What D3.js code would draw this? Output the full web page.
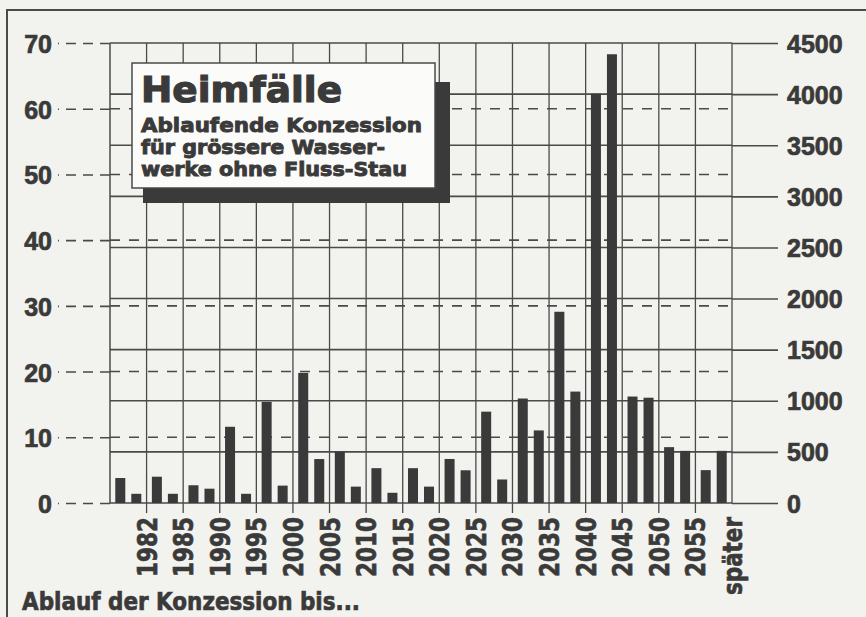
<!DOCTYPE html>
<html>
<head>
<meta charset="utf-8">
<style>
    body {
        margin: 0;
        background: #f2f2ee;
    }
    svg {
        display: block;
        font-family: "DejaVu Sans", sans-serif;
        font-weight: bold;
    }
    svg text {
        stroke: #3a3a3a;
        stroke-width: 0.7px;
    }
    .axis .domain {
        display: none;
    }
    .axis .tick text {
        fill: #3a3a3a;
        font-size: 25px;
    }
    .y-left .tick line {
        stroke: #4a4a4a;
        stroke-width: 1.6px;
        stroke-dasharray: 10, 7;
    }
    .y-right .tick line {
        stroke: #4a4a4a;
        stroke-width: 1.6px;
    }
</style>
</head>
<body>
<svg width="866" height="617"></svg>

<script src="https://cdn.jsdelivr.net/npm/d3@7/dist/d3.min.js"></script>
<script>

    // each interval ends at its label
    let xLabels = ["1982", "1985", "1990", "1995", "2000", "2005", "2010", "2015", "2020",
        "2025", "2030", "2035", "2040", "2045", "2050", "2055", "später"]

    // left bar of each pair, left axis (Anzahl)
    let anzahl = [3.8, 4.0, 2.7, 11.6, 15.4, 19.8, 7.8, 5.3, 5.3, 6.7, 13.9, 15.9, 29.1, 62.3, 16.2, 8.5, 5.0]
    // right bar of each pair, right axis
    let leistung = [90, 90, 140, 90, 170, 430, 160, 100, 160, 320, 230, 710, 1090, 4390, 1030, 510, 510]

    let leftTicks = [0, 10, 20, 30, 40, 50, 60, 70]
    let rightTicks = [0, 500, 1000, 1500, 2000, 2500, 3000, 3500, 4000, 4500]

    let width = 866
    let height = 617
    let margin = { top: 43, right: 134, bottom: 114, left: 110 }
    let ink = "#3a3a3a"
    let lineCol = "#4a4a4a"

    let svg = d3.select("svg")

    // outer frame (left and top only)
    svg.append("path")
        .attr("d", `M7,${height} V10 H${width}`)
        .style("fill", "none")
        .style("stroke", lineCol)
        .style("stroke-width", "2px")

    let x = d3.scaleBand()
        .domain(xLabels)
        .range([margin.left, width - margin.right])

    let inner = d3.scaleBand()
        .domain(["a", "b"])
        .range([0, x.bandwidth()])
        .paddingInner(0.375)
        .paddingOuter(0.33)

    let yL = d3.scaleLinear()
        .domain([0, 70])
        .range([height - margin.bottom, margin.top])

    let yR = d3.scaleLinear()
        .domain([0, 4500])
        .range([height - margin.bottom, margin.top])

    let x0 = margin.left
    let x1 = width - margin.right

    // dashed grid for left axis
    svg.append("g")
        .selectAll("line")
        .data(leftTicks.filter(d => d > 0 && d < 70))
        .join("line")
        .attr("x1", x0)
        .attr("x2", x1)
        .attr("y1", d => yL(d))
        .attr("y2", d => yL(d))
        .style("stroke", lineCol)
        .style("stroke-width", "1.6px")
        .style("stroke-dasharray", "10,9")

    // solid grid for right axis
    svg.append("g")
        .selectAll("line")
        .data(rightTicks)
        .join("line")
        .attr("x1", x0)
        .attr("x2", x1)
        .attr("y1", d => yR(d))
        .attr("y2", d => yR(d))
        .style("stroke", lineCol)
        .style("stroke-width", "1.6px")

    // vertical lines at interval ends, running down as ticks
    svg.append("g")
        .selectAll("line")
        .data(xLabels)
        .join("line")
        .attr("x1", d => x(d) + x.bandwidth())
        .attr("x2", d => x(d) + x.bandwidth())
        .attr("y1", margin.top)
        .attr("y2", d => d == "später" ? yL(0) : yL(0) + 10)
        .style("stroke", lineCol)
        .style("stroke-width", "1.3px")

    svg.append("line")
        .attr("x1", x0)
        .attr("x2", x0)
        .attr("y1", margin.top)
        .attr("y2", yL(0))
        .style("stroke", lineCol)
        .style("stroke-width", "1.5px")

    // bars
    let groups = svg.append("g")
        .selectAll("g")
        .data(xLabels)
        .join("g")
        .attr("transform", d => `translate(${x(d)},0)`)

    groups.append("rect")
        .attr("x", inner("a"))
        .attr("width", inner.bandwidth())
        .attr("y", (d, i) => yL(anzahl[i]))
        .attr("height", (d, i) => yL(0) - yL(anzahl[i]))
        .style("fill", ink)

    groups.append("rect")
        .attr("x", inner("b"))
        .attr("width", inner.bandwidth())
        .attr("y", (d, i) => yR(leistung[i]))
        .attr("height", (d, i) => yR(0) - yR(leistung[i]))
        .style("fill", ink)

    // left axis
    svg.append("g")
        .attr("class", "axis y-left")
        .attr("transform", `translate(${x0},0)`)
        .call(d3.axisLeft(yL).tickValues(leftTicks).tickSize(52).tickPadding(6))
        .selectAll("text")
        .attr("dy", "0.38em")

    // right axis
    svg.append("g")
        .attr("class", "axis y-right")
        .attr("transform", `translate(${x1},0)`)
        .call(d3.axisRight(yR).tickValues(rightTicks).tickSize(46).tickPadding(9).tickFormat(d3.format("d")))
        .selectAll("text")
        .attr("dy", "0.36em")

    // x labels, rotated
    svg.append("g")
        .selectAll("text")
        .data(xLabels)
        .join("text")
        .attr("transform", d => `translate(${x(d) + x.bandwidth()},${yL(0) + 14}) rotate(-90)`)
        .attr("text-anchor", "end")
        .attr("dy", "0.37em")
        .attr("textLength", d => d == "später" ? 78 : 60)
        .attr("lengthAdjust", "spacingAndGlyphs")
        .style("font-size", "27px")
        .style("fill", ink)
        .text(d => d)

    // title box
    svg.append("rect")
        .attr("x", 143)
        .attr("y", 82)
        .attr("width", 307)
        .attr("height", 121)
        .style("fill", ink)

    svg.append("rect")
        .attr("x", 132)
        .attr("y", 63)
        .attr("width", 303)
        .attr("height", 125)
        .style("fill", "#fbfbf9")
        .style("stroke", lineCol)
        .style("stroke-width", "1.5px")

    svg.append("text")
        .attr("x", 141)
        .attr("y", 102)
        .attr("textLength", 201)
        .attr("lengthAdjust", "spacingAndGlyphs")
        .style("font-size", "36px")
        .style("stroke-width", "1.2px")
        .style("fill", ink)
        .text("Heimfälle")

    let sub = [
        { t: "Ablaufende Konzession", w: 281 },
        { t: "für grössere Wasser-", w: 244 },
        { t: "werke ohne Fluss-Stau", w: 266 }
    ]

    svg.append("g")
        .selectAll("text")
        .data(sub)
        .join("text")
        .attr("x", 141)
        .attr("y", (d, i) => 132 + i * 22)
        .attr("textLength", d => d.w)
        .attr("lengthAdjust", "spacingAndGlyphs")
        .style("font-size", "19px")
        .style("stroke-width", "0.9px")
        .style("fill", ink)
        .text(d => d.t)

    svg.append("text")
        .attr("x", 22)
        .attr("y", 610)
        .attr("textLength", 338)
        .attr("lengthAdjust", "spacingAndGlyphs")
        .style("font-size", "24px")
        .style("fill", ink)
        .text("Ablauf der Konzession bis...")

</script>
</body>
</html>
